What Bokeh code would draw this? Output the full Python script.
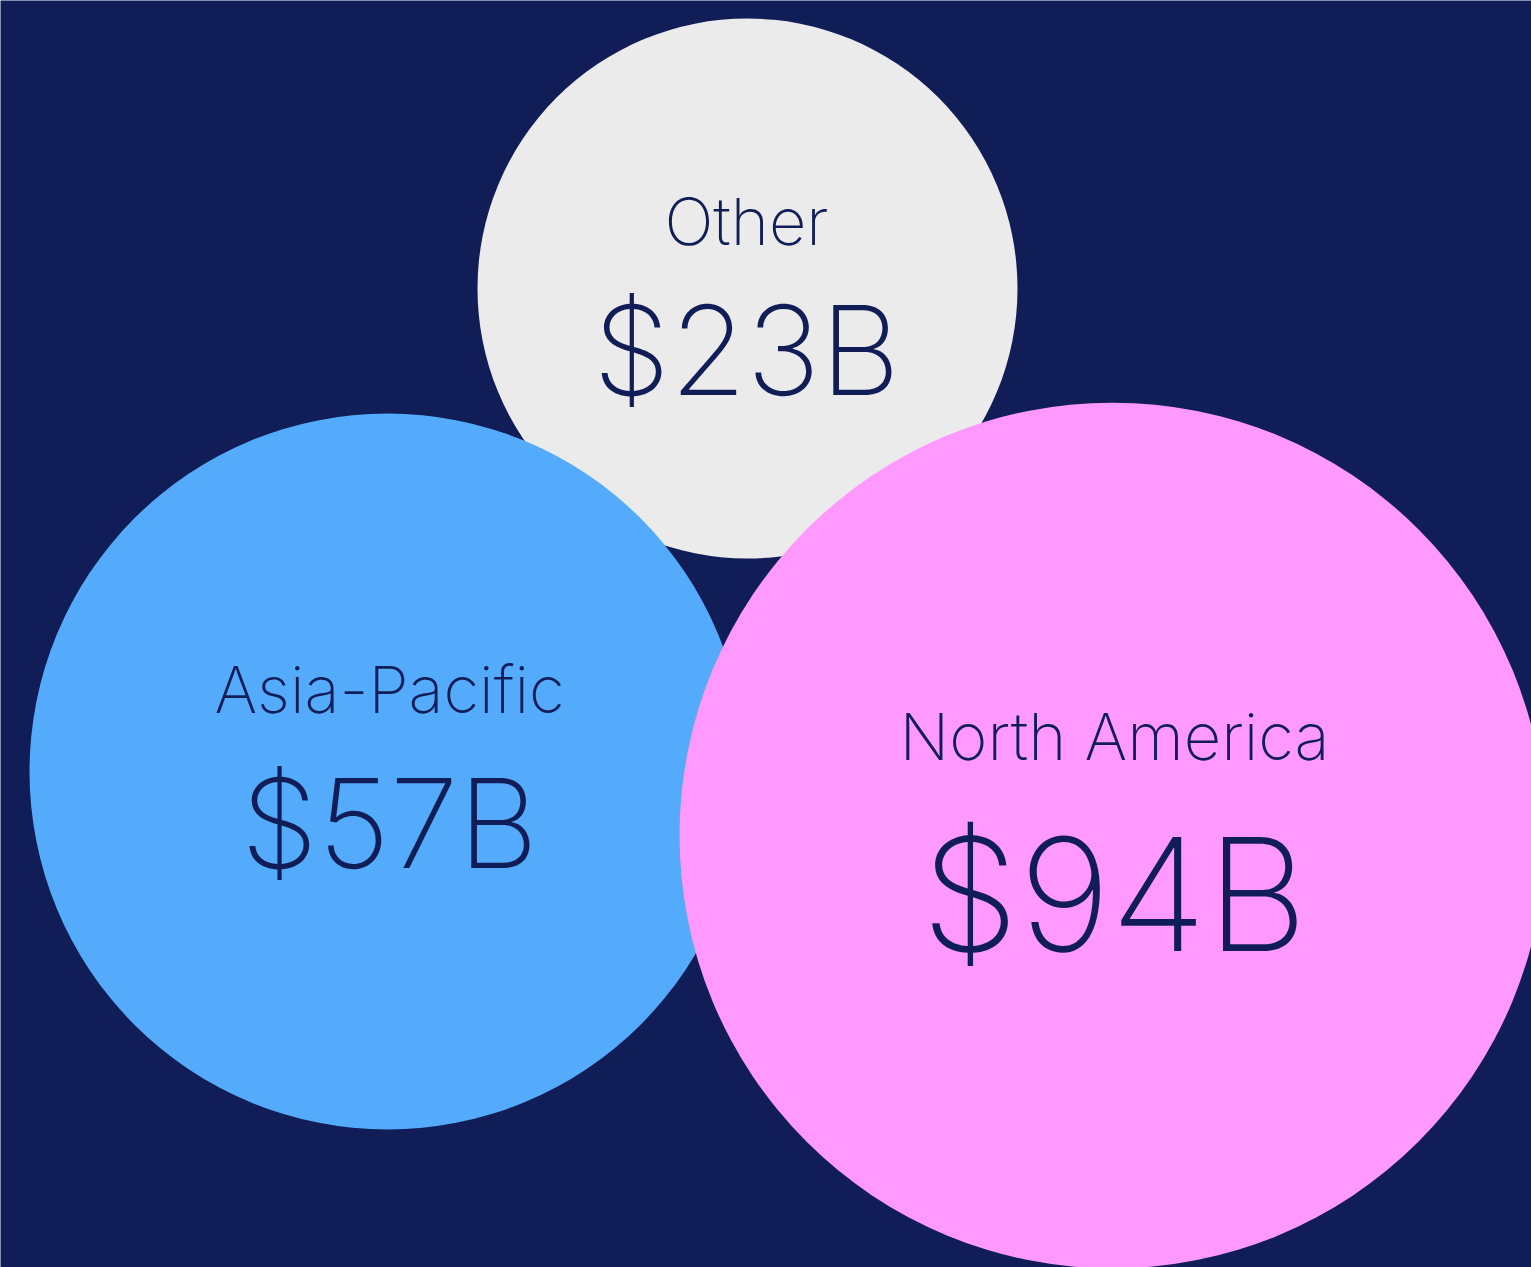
from bokeh.plotting import figure
from bokeh.models import Range1d, ColumnDataSource
from bokeh.core.properties import value
from bokeh.embed import file_html
from bokeh.resources import INLINE

# data
regions = ["Other", "Asia-Pacific", "North America"]
revenue_billions = [23, 57, 94]
value_labels = ["$23B", "$57B", "$94B"]

# layout (reference pixel space, y downwards)
center_x = [747, 387, 1112]
center_y = [288, 771, 835]
radius = [270, 358, 433]
text_x = [746, 389, 1114]
label_y = [221, 689, 736]
value_y = [349, 822, 893]
value_size = ["124px", "124px", "157px"]
colors = ["#EBEBEB", "#54ABFB", "#FF99FF"]

BG = "#111D57"
INK = "#111D57"

p = figure(width=1531, height=1267, output_backend="svg", toolbar_location=None,
           x_range=Range1d(0, 1531), y_range=Range1d(1267, 0),
           min_border=0, background_fill_color=BG, border_fill_color=BG,
           outline_line_color=None)
p.axis.visible = False
p.grid.visible = False

src = ColumnDataSource(dict(x=center_x, y=center_y, r=radius, c=colors))
p.circle(x="x", y="y", radius="r", fill_color="c", line_color=None, source=src)

font = value("Inter ExtraLight")
for i in range(len(regions)):
    p.text(x=[text_x[i]], y=[label_y[i]], text=[regions[i]],
           text_font=font, text_font_size="65px", text_color=INK,
           text_align="center", text_baseline="alphabetic")
    p.text(x=[text_x[i]], y=[value_y[i]], text=[value_labels[i]],
           text_font=font, text_font_size=value_size[i], text_color=INK,
           text_align="center", text_baseline="alphabetic")

open("out.html", "w").write(file_html(p, INLINE))
